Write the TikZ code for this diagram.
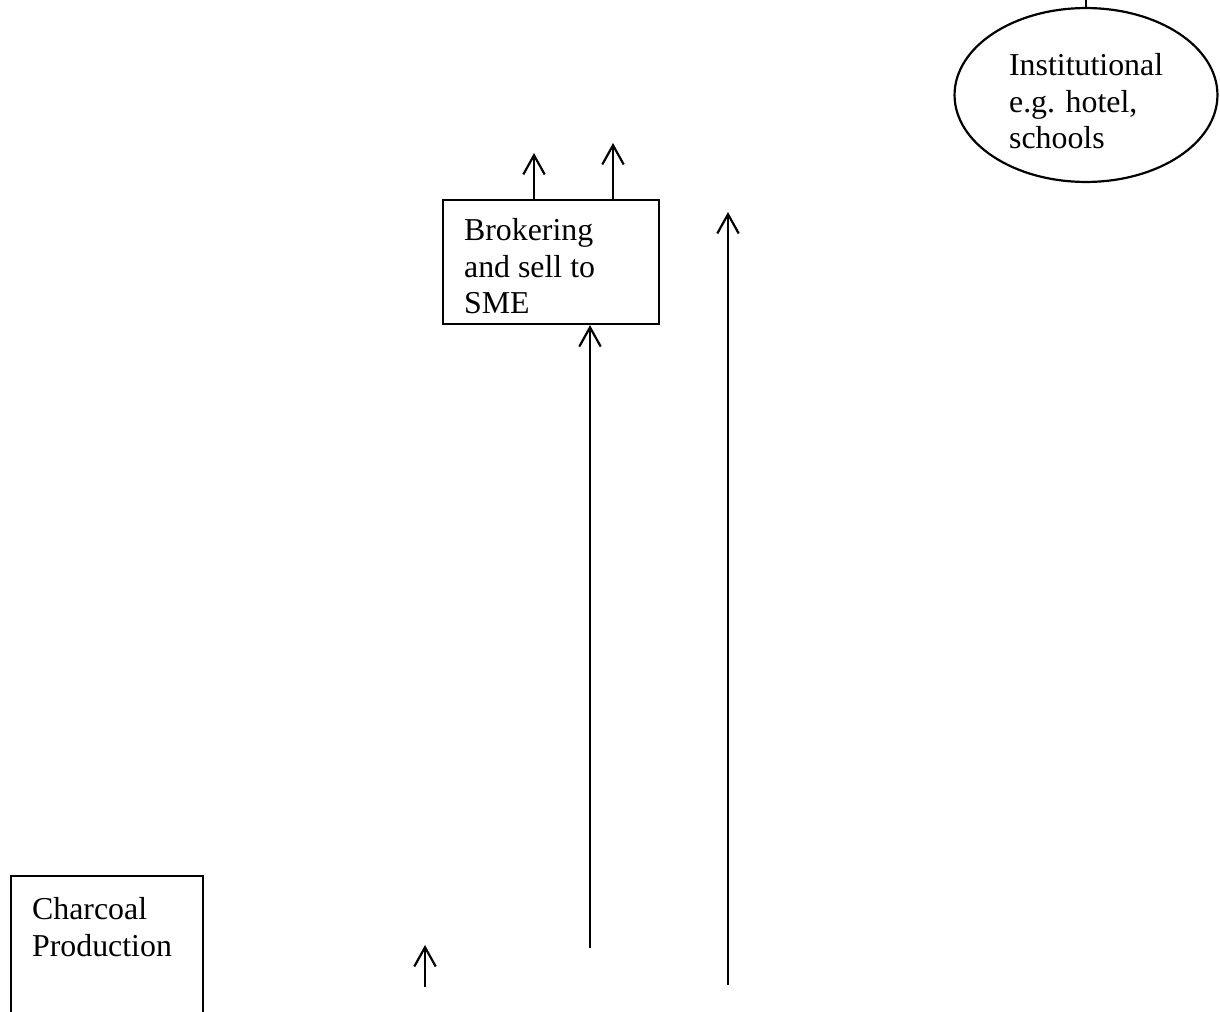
\documentclass[tikz,border=0pt]{standalone}
\usepackage{fontspec}
\setmainfont{Liberation Serif}
\usetikzlibrary{arrows.meta,shapes.geometric,positioning}

\begin{document}
\begin{tikzpicture}[x=0.364pt, y=-0.364pt, >={Straight Barb[length=7pt,width=7.8pt]}, line width=0.8pt,
	every node/.style={font=\fontsize{11.6}{13.4}\selectfont},
	box/.style={draw, rectangle, inner sep=0pt, anchor=north west},
	txt/.style={align=left, inner sep=0pt, anchor=north west}]
	\useasboundingbox (0,0) rectangle (1220,1012);
	
	% === boxes and ellipse ===
	\node[box, minimum width=78.6pt, minimum height=45.1pt] (broker) at (442,199) {};
	\node[txt] (brokertext) at (463,217) {Brokering\\and sell to\\SME};
	\node[box, minimum width=69.9pt, minimum height=57pt] (charcoal) at (10,875) {};
	\node[txt] (charcoaltext) at (31,896) {Charcoal\\Production};
	\node[draw, ellipse, minimum width=95.7pt, minimum height=63.3pt, inner sep=0pt] (inst) at (1086,95) {};
	\node[txt] (insttext) at (1008,52) {Institutional\\e.g. hotel,\\schools};
	
	% === arrows ===
	\coordinate (up1) at (534,153);
	\coordinate (up2) at (613,143);
	\draw[->] (broker.north west -| up1) -- (up1);
	\draw[->] (broker.north west -| up2) -- (up2);
	
	\coordinate (foot1) at (590,948);
	\draw[->] (foot1) -- (broker.south west -| foot1);
	\coordinate (foot2) at (728,985);
	\coordinate (head2) at (728,212);
	\draw[->] (foot2) -- (head2);
	\coordinate (foot3) at (425,987);
	\coordinate (head3) at (425,945);
	\draw[->] (foot3) -- (head3);
	
	% stub above the ellipse
	\coordinate (insttop) at (1086,-5);
	\draw (inst.north) -- (insttop);
\end{tikzpicture}
\end{document}
